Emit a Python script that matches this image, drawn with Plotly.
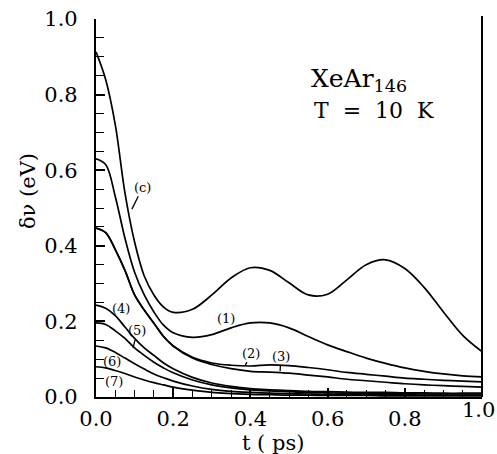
import plotly.graph_objects as go

t = [0, 0.025, 0.05, 0.075, 0.1, 0.125, 0.15, 0.175, 0.2, 0.25, 0.3, 0.35, 0.4,
     0.45, 0.5, 0.55, 0.6, 0.65, 0.7, 0.75, 0.8, 0.85, 0.9, 0.95, 1.0]

curve_c = [0.913, 0.84, 0.72, 0.54, 0.41, 0.32, 0.27, 0.238, 0.224, 0.232, 0.27, 0.315, 0.342,
           0.335, 0.302, 0.27, 0.272, 0.31, 0.35, 0.363, 0.34, 0.29, 0.225, 0.163, 0.12]
curve_1 = [0.63, 0.615, 0.53, 0.42, 0.33, 0.27, 0.225, 0.19, 0.17, 0.158, 0.165, 0.183, 0.196,
           0.196, 0.183, 0.16, 0.138, 0.12, 0.103, 0.089, 0.077, 0.068, 0.061, 0.056, 0.053]
curve_2 = [0.447, 0.435, 0.39, 0.335, 0.27, 0.23, 0.195, 0.16, 0.135, 0.105, 0.09, 0.084, 0.082,
           0.085, 0.083, 0.078, 0.072, 0.065, 0.06, 0.055, 0.05, 0.047, 0.044, 0.042, 0.04]
curve_3 = [0.447, 0.435, 0.39, 0.335, 0.27, 0.23, 0.195, 0.16, 0.135, 0.103, 0.086, 0.075, 0.068,
           0.066, 0.063, 0.058, 0.053, 0.047, 0.043, 0.039, 0.035, 0.032, 0.03, 0.028, 0.026]
curve_4 = [0.243, 0.235, 0.215, 0.185, 0.155, 0.13, 0.11, 0.09, 0.075, 0.052, 0.037, 0.028, 0.022,
           0.019, 0.017, 0.015, 0.014, 0.013, 0.012, 0.012, 0.011, 0.011, 0.01, 0.01, 0.01]
curve_5 = [0.196, 0.192, 0.175, 0.155, 0.13, 0.11, 0.092, 0.077, 0.064, 0.045, 0.032, 0.024, 0.019,
           0.016, 0.014, 0.012, 0.011, 0.01, 0.01, 0.009, 0.009, 0.008, 0.008, 0.008, 0.008]
curve_6 = [0.135, 0.13, 0.118, 0.103, 0.088, 0.074, 0.061, 0.051, 0.042, 0.029, 0.02, 0.015, 0.012,
           0.01, 0.009, 0.008, 0.007, 0.007, 0.006, 0.006, 0.006, 0.005, 0.005, 0.005, 0.005]
curve_7 = [0.08, 0.077, 0.07, 0.062, 0.053, 0.045, 0.038, 0.032, 0.026, 0.018, 0.012, 0.009, 0.007,
           0.006, 0.005, 0.005, 0.004, 0.004, 0.004, 0.003, 0.003, 0.003, 0.003, 0.003, 0.003]

series = [curve_c, curve_1, curve_2, curve_3, curve_4, curve_5, curve_6, curve_7]

tick_vals = [0.0, 0.2, 0.4, 0.6, 0.8, 1.0]
tick_text = ["0.0", "0.2", "0.4", "0.6", "0.8", "1.0"]

# curve labels: (text, label x, label y, pointer tip x, pointer tip y or None)
labels = [
    ("(c)", 0.121, 0.555, 0.093, 0.497),
    ("(1)", 0.337, 0.209, None, None),
    ("(2)", 0.402, 0.116, 0.386, 0.082),
    ("(3)", 0.479, 0.108, 0.477, 0.069),
    ("(4)", 0.065, 0.233, None, None),
    ("(5)", 0.107, 0.175, 0.096, 0.13),
    ("(6)", 0.041, 0.093, None, None),
    ("(7)", 0.047, 0.040, None, None),
]

fig = go.Figure()
for s in series:
    fig.add_trace(go.Scatter(x=t, y=s, mode="lines",
                             line=dict(color="black", width=1.7, shape="spline", smoothing=1.0),
                             showlegend=False, hoverinfo="skip"))

serif = "DejaVu Serif"
for txt, lx, ly, px, py in labels:
    if px is None:
        fig.add_annotation(x=lx, y=ly, text=txt, showarrow=False,
                           font=dict(family=serif, size=13, color="black"))
    else:
        fig.add_annotation(x=px, y=py, ax=lx, ay=ly, axref="x", ayref="y",
                           text=txt, showarrow=True, arrowhead=0, arrowwidth=1.3,
                           arrowcolor="black", standoff=0,
                           font=dict(family=serif, size=13, color="black"))

fig.add_annotation(x=0.552, y=0.838, xref="x", yref="y", xanchor="left", showarrow=False,
                   text="XeAr<sub>146</sub>", font=dict(family=serif, size=25, color="black"))
fig.add_annotation(x=0.56, y=0.757, xref="x", yref="y", xanchor="left", showarrow=False,
                   text="T  =  10  K", font=dict(family=serif, size=22, color="black"))

fig.add_annotation(x=0.459, y=-0.122, xref="paper", yref="paper", xanchor="center",
                   yanchor="middle", showarrow=False,
                   text="t ( ps)", font=dict(family=serif, size=21, color="black"))
fig.add_annotation(x=-0.176, y=0.545, xref="paper", yref="paper", xanchor="center",
                   yanchor="middle", showarrow=False,
                   textangle=-90, text="δν (eV)", font=dict(family=serif, size=21, color="black"))

# last x tick label drawn slightly inset so it stays inside the page
fig.add_annotation(x=0.99, y=-0.034, xref="paper", yref="paper", xanchor="center",
                   yanchor="middle", showarrow=False,
                   text=tick_text[-1], font=dict(family=serif, size=21, color="black"))
x_tick_text = tick_text[:-1] + [""]

fig.add_shape(type="line", xref="x domain", yref="y domain", x0=1, x1=1, y0=0, y1=1.008,
              line=dict(color="black", width=2))

common = dict(range=[0, 1], tickmode="array", tickvals=tick_vals,
              ticks="inside", ticklen=9, tickwidth=1.6, tickcolor="black",
              showline=True, linecolor="black", linewidth=2.2, showgrid=False, zeroline=False,
              automargin=False,
              tickfont=dict(family=serif, size=21, color="black"), fixedrange=True)
fig.update_xaxes(**common, ticktext=x_tick_text,
                 minor=dict(dtick=0.05, tick0=0, ticks="inside", ticklen=7, tickwidth=1.4,
                            tickcolor="black"),
                 ticklabelstandoff=2)
fig.update_yaxes(**common, ticktext=tick_text,
                 minor=dict(dtick=0.05, tick0=0, ticks="inside", ticklen=8, tickwidth=1.4,
                            tickcolor="black"),
                 ticklabelstandoff=12)

fig.update_layout(width=497, height=454, margin=dict(l=96, r=15, t=19, b=57),
                  paper_bgcolor="white", plot_bgcolor="white")

fig.write_html("out.html")
